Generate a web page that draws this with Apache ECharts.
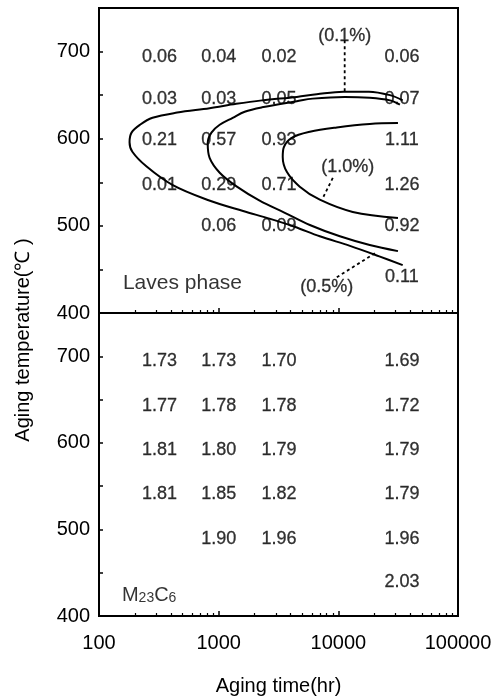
<!DOCTYPE html>
<html><head><meta charset="utf-8">
<script src="https://cdn.jsdelivr.net/npm/echarts@6/dist/echarts.min.js"></script>
<style>html,body{margin:0;padding:0;background:#fff}#c{width:494px;height:700px}</style>
</head><body><div id="c"></div>
<script>
// ---- data ----
const colTimes = [320, 1000, 3200, 34000];            // aging time (hr) of value columns
const lavesRowTemps = [694, 645, 598, 547, 500, 441];   // label rows, top panel
const lavesValues = [
  [0.06, 0.04, 0.02, 0.06],
  [0.03, 0.03, 0.05, 0.07],
  [0.21, 0.57, 0.93, 1.11],
  [0.01, 0.29, 0.71, 1.26],
  [null, 0.06, 0.09, 0.92],
  [null, null, null, 0.11]
];
const m23RowTemps = [695, 643, 592, 541, 489, 439];     // label rows, bottom panel
const m23Values = [
  [1.73, 1.73, 1.70, 1.69],
  [1.77, 1.78, 1.78, 1.72],
  [1.81, 1.80, 1.79, 1.79],
  [1.81, 1.85, 1.82, 1.79],
  [null, 1.90, 1.96, 1.96],
  [null, null, null, 2.03]
];
// C-curves [time, temperature]
const curve01 = [[34500,644],[27000,650],[18000,654],[11000,654],[6600,651],[4500,648],[2300,644],[1400,640],[840,635],[450,630],[280,624],[220,616],[187,607],[180,596],[190,585],[250,568],[410,547],[800,530],[1600,517],[2700,508],[4300,499],[7000,488],[12500,477],[22000,465],[34500,455]];
const curve05 = [[32700,639],[27000,644],[18300,647],[11300,648],[6100,646],[4500,643],[2300,636],[1650,631],[1310,624],[1020,616],[870,607],[810,595],[840,578],[1020,561],[1420,545],[2200,529],[3570,515],[5780,501],[10300,488],[18300,478],[31500,471]];
const curve10 = [[31500,618],[18300,617],[9700,613],[5780,608],[4080,601],[3500,590],[3430,579],[3710,562],[4760,545],[7000,530],[13200,516],[31500,509]];
// pointer leaders
const pointer01 = [[11300,713],[11300,654]];
const pointer10 = [[8990,555],[7420,532]];
const pointer05 = [[9710,441],[21000,470]];
const curveLabels = [[11300,718,'(0.1%)'],[12000,567,'(1.0%)'],[8000,430,'(0.5%)']];
const tempTicks = [400, 500, 600, 700];

const FONT = '"Liberation Sans", Arial, Helvetica, sans-serif';

function cells(rows, vals) {
  const out = [];
  rows.forEach((T, i) => vals[i].forEach((v, j) => {
    if (v != null) out.push([colTimes[j], T, v.toFixed(2)]);
  }));
  return out;
}

const chart = echarts.init(document.getElementById('c'), null, {renderer: 'canvas'});

function xAxis(gi, showLabels) {
  return {
    type: 'log', logBase: 10, min: 100, max: 100000, gridIndex: gi,
    axisLine: {show: true, lineStyle: {color: '#000', width: 2}},
    axisTick: {show: true, inside: true, length: 5, lineStyle: {color: '#000', width: 1.5}},
    minorTick: {show: true, splitNumber: 9, length: 3, lineStyle: {color: '#000', width: 1.2}},
    splitLine: {show: false}, minorSplitLine: {show: false},
    axisLabel: {show: showLabels, fontSize: 20, color: '#000', fontFamily: FONT, margin: 17,
      formatter: v => String(Math.round(v))},
    name: showLabels ? 'Aging time(hr)' : '', nameLocation: 'middle', nameGap: 60,
    nameTextStyle: {fontSize: 20, color: '#000', fontFamily: FONT}
  };
}
function yAxis(gi) {
  return {
    type: 'value', min: 400, max: 750, interval: 50, gridIndex: gi,
    axisLine: {show: true, lineStyle: {color: '#000', width: 2}},
    axisTick: {show: true, inside: true, length: 4, lineStyle: {color: '#000', width: 1.5}},
    splitLine: {show: false},
    axisLabel: {fontSize: 20, color: '#000', fontFamily: FONT, margin: 9,
      formatter: v => tempTicks.indexOf(v) >= 0 ? String(v) : ''}
  };
}

const textSeries = (data, xi, size) => ({
  type: 'scatter', xAxisIndex: xi, yAxisIndex: xi, data: data,
  symbolSize: 1, itemStyle: {color: 'rgba(0,0,0,0)'}, silent: true,
  label: {show: true, position: 'inside', formatter: p => p.value[2],
    fontSize: size, color: '#000', fontFamily: FONT, textBorderColor: '#000', textBorderWidth: 0.3}
});
const lineSeries = (data, w, dash) => ({
  type: 'line', xAxisIndex: 0, yAxisIndex: 0, data: data, showSymbol: false,
  smooth: dash ? false : 0.35, silent: true,
  lineStyle: {color: '#000', width: w, type: dash ? [3, 3] : 'solid'}
});

const gridBase = {left: 99, right: 36, show: true, borderColor: '#000', borderWidth: 2,
  backgroundColor: 'transparent', containLabel: false, outerBoundsMode: 'none'};

chart.setOption({
  animation: false,
  backgroundColor: '#fff',
  grid: [
    Object.assign({top: 8, height: 305}, gridBase),
    Object.assign({top: 313, height: 303}, gridBase)
  ],
  xAxis: [xAxis(0, false), xAxis(1, true)],
  yAxis: [yAxis(0), yAxis(1)],
  graphic: [{
    type: 'text', x: 23, y: 340, rotation: Math.PI / 2,
    style: {text: 'Aging temperature(℃ )', fontSize: 20, fontFamily: FONT, fill: '#000',
      align: 'center', verticalAlign: 'middle', textAlign: 'center', textVerticalAlign: 'middle'}
  }],
  series: [
    lineSeries(curve01, 2, false),
    lineSeries(curve05, 2, false),
    lineSeries(curve10, 2, false),
    lineSeries(pointer01, 1.8, true),
    lineSeries(pointer10, 1.8, true),
    lineSeries(pointer05, 1.8, true),
    textSeries(cells(lavesRowTemps, lavesValues), 0, 18),
    textSeries(cells(m23RowTemps, m23Values), 1, 18),
    textSeries(curveLabels, 0, 18),
    {
      type: 'scatter', xAxisIndex: 0, yAxisIndex: 0, data: [[157, 434, 'Laves phase']],
      symbolSize: 1, itemStyle: {color: 'rgba(0,0,0,0)'}, silent: true,
      label: {show: true, position: 'right', distance: 0, formatter: p => p.value[2],
        fontSize: 21, color: '#000', fontFamily: FONT}
    },
    {
      type: 'scatter', xAxisIndex: 1, yAxisIndex: 1, data: [[154, 424]],
      symbolSize: 1, itemStyle: {color: 'rgba(0,0,0,0)'}, silent: true,
      label: {show: true, position: 'right', distance: 0,
        formatter: '{b|M}{s|23}{b|C}{s|6}',
        rich: {
          b: {fontSize: 20, fontFamily: FONT, color: '#000', verticalAlign: 'bottom', lineHeight: 20},
          s: {fontSize: 14, fontFamily: FONT, color: '#000', verticalAlign: 'bottom', lineHeight: 17}
        }}
    }
  ]
});
</script></body></html>
